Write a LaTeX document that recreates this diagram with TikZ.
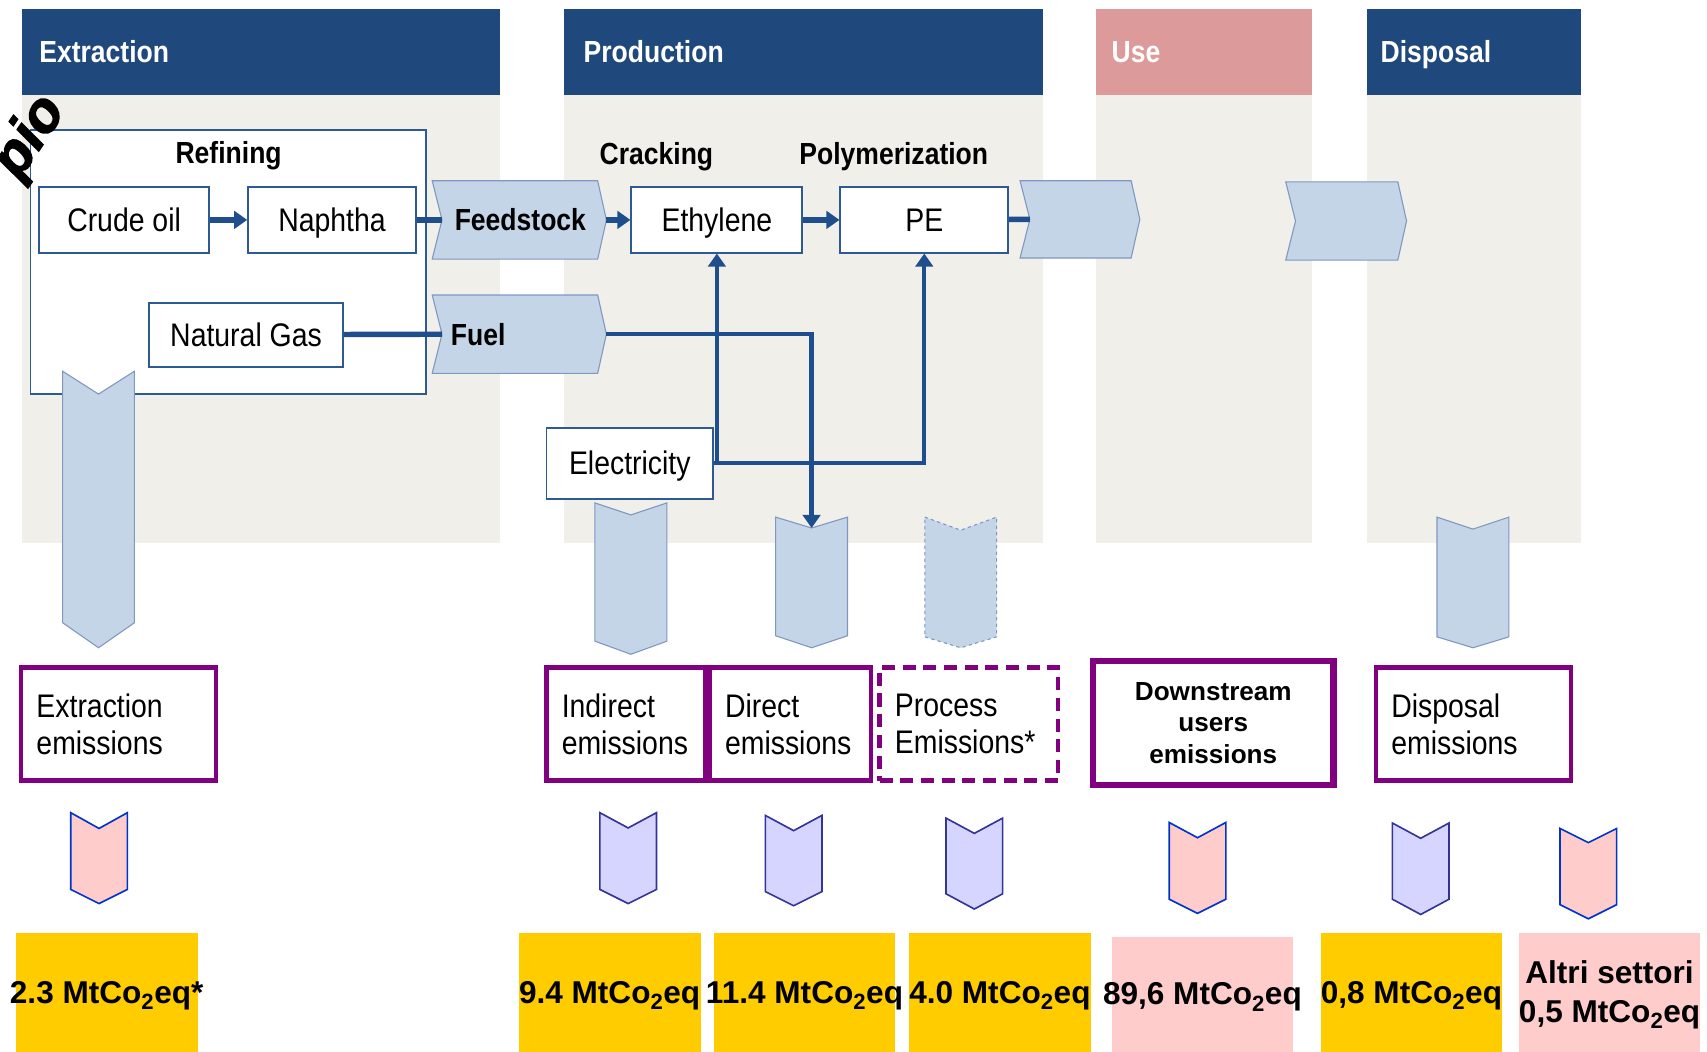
\documentclass[tikz,border=0pt]{standalone}
\usepackage{fontspec}
\setmainfont{Liberation Sans}
\newfontfamily\narrowfont[FakeStretch=0.87]{Liberation Sans}
\newfontfamily\heavyfont[FakeBold=2.5]{Liberation Sans}
\usetikzlibrary{arrows.meta}

\definecolor{hdrblue}{HTML}{1F487C}
\definecolor{hdrpink}{HTML}{DD9A9A}
\definecolor{bggray}{HTML}{F0EFEA}
\definecolor{boxblue}{HTML}{2E5A93}
\definecolor{flowblue}{HTML}{1F4E8C}
\definecolor{chevfill}{HTML}{C5D5E8}
\definecolor{chevline}{HTML}{7F97C1}
\definecolor{emispurple}{HTML}{800080}
\definecolor{smpinkfill}{HTML}{FFCCCC}
\definecolor{smpinkline}{HTML}{0033CC}
\definecolor{smlavfill}{HTML}{D5D5FF}
\definecolor{smlavline}{HTML}{333399}
\definecolor{valyellow}{HTML}{FFCC00}
\definecolor{valpink}{HTML}{FFCCCC}

% chevron pointing right: name, left x, right x, top y, bottom y
\newcommand{\chevright}[5]{%
  \draw[chev] (#2,#4) -- (#3-8,#4) -- (#3,{(#4+#5)/2}) -- (#3-8,#5) -- (#2,#5) -- (#2+9,{(#4+#5)/2}) -- cycle;
  \coordinate (#1-in) at (#2+9,{(#4+#5)/2});
  \coordinate (#1-out) at (#3,{(#4+#5)/2});
}
% chevron pointing down: [style] name, centre x, half width, top y, top depth, bottom y, bottom depth
\newcommand{\chevdown}[8][chev]{%
  \draw[#1] (#3-#4,#5) -- (#3,#5+#6) -- (#3+#4,#5) -- (#3+#4,#7) -- (#3,#7+#8) -- (#3-#4,#7) -- cycle;
  \coordinate (#2-in) at (#3,#5+#6);
}

\begin{document}
\begin{tikzpicture}[x=1pt,y=-1pt,
  hdr/.style={anchor=base west, text=white, inner sep=0pt, font=\narrowfont\bfseries\fontsize{28}{32}\selectfont},
  box/.style={draw=boxblue, line width=1.8pt, fill=white, inner sep=0pt, text height=27.5pt, text depth=6pt,
    font=\narrowfont\fontsize{30}{34}\selectfont},
  lbl/.style={inner sep=0pt, text height=26pt, text depth=6pt, font=\narrowfont\bfseries\fontsize{28}{32}\selectfont},
  chev/.style={draw=chevline, fill=chevfill, line width=1pt},
  flow/.style={draw=flowblue, line width=5pt},
  tip/.style={-{Triangle[length=12pt,width=16pt]}},
  emis/.style={draw=emispurple, line width=4pt, fill=white, align=left, inner xsep=14pt,
    minimum height=104pt, font=\narrowfont\fontsize{30}{34}\selectfont},
  smpink/.style={draw=smpinkline, fill=smpinkfill, line width=1.5pt},
  smlav/.style={draw=smlavline, fill=smlavfill, line width=1.5pt},
  valbox/.style={minimum width=167pt, minimum height=109pt, inner sep=0pt},
  valtxt/.style={inner sep=0pt, align=center, font=\bfseries\fontsize{29}{36}\selectfont}
]
\useasboundingbox (0,0) rectangle (1568,966);

% columns
\fill[bggray] (20,87) rectangle (459,499);
\fill[bggray] (518,87) rectangle (958,499);
\fill[bggray] (1007,87) rectangle (1205,499);
\fill[bggray] (1256,87) rectangle (1452,499);
\fill[hdrblue] (20,8) rectangle (459,87);
\fill[hdrblue] (518,8) rectangle (958,87);
\fill[hdrpink] (1007,8) rectangle (1205,87);
\fill[hdrblue] (1256,8) rectangle (1452,87);
\node[hdr] (hextr) at (36,57) {Extraction};
\node[hdr] (hprod) at (536,57) {Production};
\node[hdr] (huse) at (1021,57) {Use};
\node[hdr] (hdisp) at (1268,57) {Disposal};

% extraction
\node[box, minimum width=363pt, minimum height=242pt] (refbox) at (209.5,240.5) {};
\node[lbl] (reflbl) at (210,140) {Refining};
\node[box, minimum width=156pt, minimum height=60pt] (crude) at (114,202) {Crude oil};
\node[box, minimum width=154pt, minimum height=60pt] (naphtha) at (305,202) {Naphtha};
\node[box, minimum width=178pt, minimum height=59pt] (natgas) at (226,307.5) {Natural Gas};
\chevdown{bigext}{90.5}{33}{341}{21}{572}{23}

% production
\chevright{feed}{397}{557}{166}{238}
\chevright{fuel}{397}{557}{271}{343}
\node[lbl] (feedlbl) at (478,202) {Feedstock};
\node[lbl, anchor=west] (fuellbl) at (414,307) {Fuel};
\node[lbl] (cracklbl) at (603,141) {Cracking};
\node[lbl] (polylbl) at (821,141) {Polymerization};
\node[box, minimum width=157pt, minimum height=60pt] (ethylene) at (658.5,202) {Ethylene};
\node[box, minimum width=154pt, minimum height=60pt] (pe) at (849,202) {PE};
\node[box, minimum width=153pt, minimum height=65pt] (elec) at (578.5,425.5) {Electricity};
\chevright{pechev}{937}{1047}{166}{237}
\chevright{gapchev}{1181}{1292}{167}{239}
\chevdown{bigind}{579.5}{33}{462}{11}{589}{12}
\chevdown{bigdir}{745.5}{33}{475}{10}{584}{11}
\chevdown[chev, dashed]{bigproc}{882.5}{33}{475}{12}{585}{10}
\chevdown{bigdisp}{1353}{33}{475}{11}{585}{10}

% flows
\draw[flow, tip] (crude) -- (naphtha);
\draw[flow] (naphtha) -- (feed-in);
\draw[flow] (natgas) -- (fuel-in);
\draw[flow, tip] (feed-out) -- (ethylene);
\draw[flow, tip] (ethylene) -- (pe);
\draw[flow] (pe) -- (pechev-in);
\draw[flow, line width=4pt, tip] (fuel-out) -| (bigdir-in);
\draw[flow, line width=4pt, tip] (elec.east) -| (pe.south);
\draw[flow, line width=4pt, tip] (elec.east -| ethylene.south) -- (ethylene.south);

% emissions
\node[emis, minimum width=179pt, text width=151pt] (extemis) at (109,665) {Extraction\\emissions};
\node[emis, minimum width=146pt, text width=118pt] (indemis) at (575,665) {Indirect\\emissions};
\node[emis, minimum width=148pt, text width=120pt] (diremis) at (726,665) {Direct\\emissions};
\node[emis, dashed, dash pattern=on 12pt off 7pt, minimum width=164pt, text width=136pt] (procemis) at (890,665) {Process\\Emissions*};
\node[emis, line width=6pt, minimum width=221pt, minimum height=114pt, text width=190pt, align=center,
  font=\bfseries\fontsize{24}{29}\selectfont] (downemis) at (1114.5,664) {Downstream\\users\\emissions};
\node[emis, minimum width=179pt, text width=151pt] (dispemis) at (1353.5,665) {Disposal\\emissions};

\chevdown[smpink]{smext}{91}{26}{746.5}{14.5}{817}{13}
\chevdown[smlav]{smind}{577}{26}{746.5}{14}{817}{13}
\chevdown[smlav]{smdir}{729}{26}{749}{14}{819}{13}
\chevdown[smlav]{smproc}{895}{26}{751.5}{14}{821}{14}
\chevdown[smpink]{smdown}{1100}{26}{755.5}{14}{826}{13}
\chevdown[smlav]{smdisp}{1305}{26}{756}{14}{826}{14}
\chevdown[smpink]{smaltri}{1459}{26}{761}{13}{831}{13}

% values
\node[valbox, fill=valyellow] (v1) at (98.5,911.5) {};
\node[valbox, fill=valyellow] (v2) at (560,911.5) {};
\node[valbox, fill=valyellow] (v3) at (739,911.5) {};
\node[valbox, fill=valyellow] (v4) at (918.5,911.5) {};
\node[valbox, fill=valpink, minimum height=105pt] (v5) at (1104.5,913.5) {};
\node[valbox, fill=valyellow] (v6) at (1296.5,911.5) {};
\node[valbox, fill=valpink] (v7) at (1478.5,911.5) {};
\node[valtxt] (v1t) at (98,915) {2.3 MtCo\textsubscript{2}eq*};
\node[valtxt] (v2t) at (560,915) {9.4 MtCo\textsubscript{2}eq};
\node[valtxt] (v3t) at (739,915) {11.4 MtCo\textsubscript{2}eq};
\node[valtxt] (v4t) at (918.5,915) {4.0 MtCo\textsubscript{2}eq};
\node[valtxt] (v5t) at (1104.5,916) {89,6 MtCo\textsubscript{2}eq};
\node[valtxt] (v6t) at (1296.5,915) {0,8 MtCo\textsubscript{2}eq};
\node[valtxt] (v7t) at (1478.5,914) {Altri settori\\0,5 MtCo\textsubscript{2}eq};

% watermark
\node[inner sep=0pt, rotate=56, font=\heavyfont\bfseries\itshape\fontsize{52}{52}\selectfont] (wmark) at (28,126) {pio};
\end{tikzpicture}
\end{document}
